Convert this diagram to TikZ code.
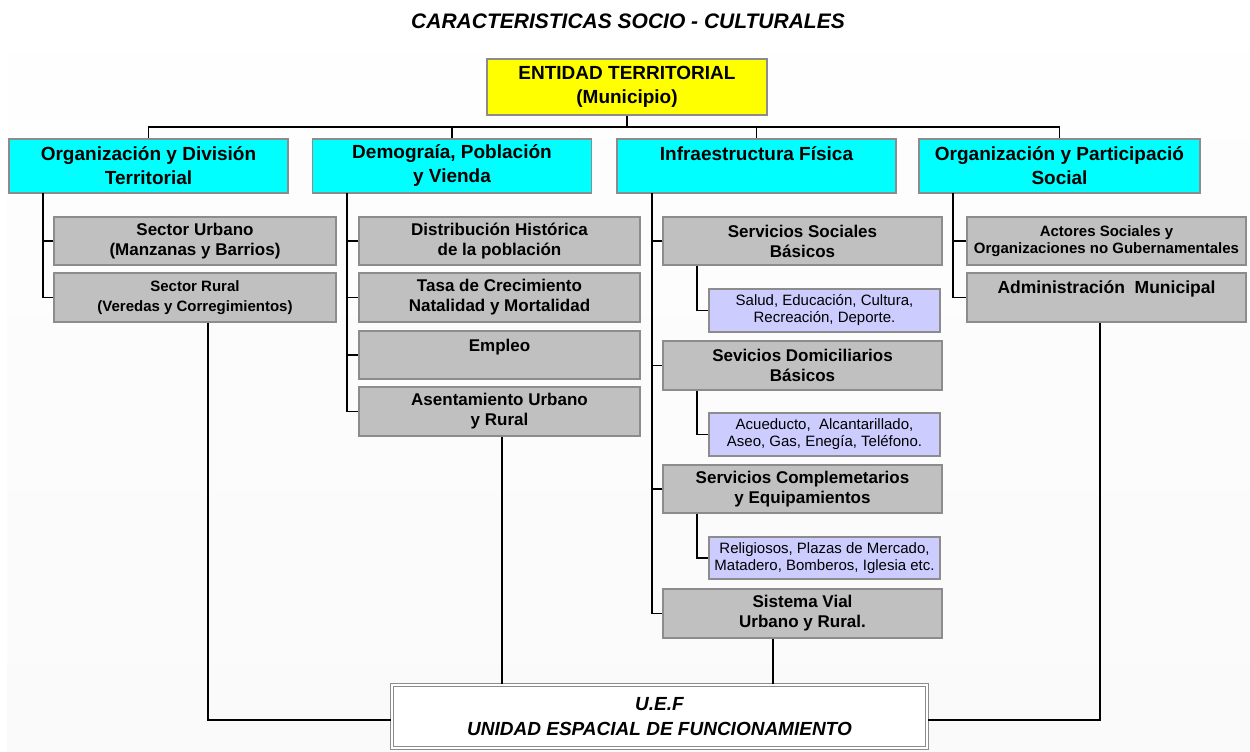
\documentclass[tikz,border=0pt]{standalone}
\usepackage{fontspec}
\setmainfont{Liberation Sans}
\definecolor{bord}{HTML}{8C8C8C}
\definecolor{grayfill}{HTML}{C0C0C0}
\definecolor{bluefill}{HTML}{CCCCFF}
\definecolor{cyanfill}{RGB}{0,255,255}
\definecolor{yellowfill}{RGB}{255,255,0}
\definecolor{bgtop}{HTML}{FEFEFE}
\definecolor{bgmid}{HTML}{DCDCDC}
\definecolor{bgbot}{HTML}{FAFAFA}
\tikzset{
 bx/.style={draw=bord, line width=1.6pt, inner sep=0pt, align=center, anchor=center},
 entbox/.style={bx, fill=yellowfill, minimum width=280pt, minimum height=56pt, font=\fontsize{19}{24}\selectfont\bfseries},
 catbox/.style={bx, fill=cyanfill, minimum width=279pt, minimum height=54pt, font=\fontsize{19}{24}\selectfont\bfseries},
 itembox/.style={bx, fill=grayfill, minimum width=280pt, minimum height=48pt, font=\fontsize{17}{20}\selectfont\bfseries},
 smallitem/.style={itembox, font=\fontsize{15}{20}\selectfont\bfseries},
 subbox/.style={bx, fill=bluefill, minimum width=231pt, minimum height=43pt, font=\fontsize{15}{17}\selectfont},
 link/.style={draw=black, line width=1.6pt},
}
\begin{document}
\begin{tikzpicture}[x=1pt,y=-1pt]
\useasboundingbox (0,0) rectangle (1250,752);
\shade[top color=bgtop, middle color=bgmid, bottom color=bgbot] (7,52) rectangle (1250,752);

\node[font=\fontsize{21}{25}\selectfont\bfseries\itshape] (title) at (628,21) {CARACTERISTICAS SOCIO - CULTURALES};

\node[entbox] (ent) at (627,87) {ENTIDAD TERRITORIAL\\(Municipio)};
\node[catbox] (c1) at (148.5,166) {Organización y División\\Territorial};
\node[catbox] (c2) at (452,166) {Demograía, Población\\y Vienda};
\node[catbox] (c3) at (756.5,166) {Infraestructura Física\\\mbox{}};
\node[catbox, minimum width=281pt] (c4) at (1059.5,166) {Organización y Participació\\Social};

% column 1
\node[itembox, minimum width=282pt] (s1a) at (195,241) {Sector Urbano\\(Manzanas y Barrios)};
\node[smallitem, minimum width=282pt, minimum height=49pt] (s1b) at (195,297.5) {Sector Rural\\(Veredas y Corregimientos)};

% column 2
\node[itembox, minimum width=281pt] (s2a) at (499.5,241) {Distribución Histórica\\de la población};
\node[itembox, minimum width=281pt, minimum height=49pt] (s2b) at (499.5,297.5) {Tasa de Crecimiento\\Natalidad y Mortalidad};
\node[itembox, minimum width=281pt] (s2c) at (499.5,355) {Empleo\\\mbox{}};
\node[itembox, minimum width=281pt, minimum height=49pt] (s2d) at (499.5,411.5) {Asentamiento Urbano\\y Rural};

% column 3
\node[itembox, minimum width=279pt] (s3a) at (802.5,241) {Servicios Sociales\\Básicos};
\node[subbox] (b3a) at (824.5,310.5) {Salud, Educación, Cultura,\\Recreación, Deporte.};
\node[itembox, minimum width=279pt, minimum height=49pt] (s3b) at (802.5,365.5) {Sevicios Domiciliarios\\Básicos};
\node[subbox] (b3b) at (824.5,434.5) {Acueducto,\ \ Alcantarillado,\\Aseo, Gas, Enegía, Teléfono.};
\node[itembox, minimum width=279pt] (s3c) at (802.5,489) {Servicios Complemetarios\\y Equipamientos};
\node[subbox, minimum height=42pt] (b3c) at (824.5,558) {Religiosos, Plazas de Mercado,\\Matadero, Bomberos, Iglesia etc.};
\node[itembox, minimum width=279pt, minimum height=49pt] (s3d) at (802.5,613.5) {Sistema Vial\\Urbano y Rural.};

% column 4
\node[itembox, minimum width=279pt, font=\fontsize{15}{17}\selectfont\bfseries] (s4a) at (1106.5,241) {Actores Sociales y\\Organizaciones no Gubernamentales};
\node[itembox, minimum width=279pt, minimum height=49pt, font=\fontsize{17.5}{20}\selectfont\bfseries] (s4b) at (1106.5,297.5) {Administración\ \ Municipal\\\mbox{}};

% bottom unit
\node[draw=bord, double=white, double distance=2.5pt, line width=1.2pt, fill=white, inner sep=0pt,
      minimum width=535pt, minimum height=63pt, align=center, text depth=-2pt,
      font=\fontsize{19}{25}\selectfont\bfseries\itshape] (uef) at (659.5,716.5) {U.E.F\\UNIDAD ESPACIAL DE FUNCIONAMIENTO};

% top bar
\coordinate (bar) at (627,127);
\draw[link] (c1.north) |- (bar) -| (c4.north);
\draw[link] (ent.south) -- (ent.south |- bar);
\draw[link] (c2.north) -- (c2.north |- bar);
\draw[link] (c3.north) -- (c3.north |- bar);

% spines
\coordinate (sp1) at (43,193);
\draw[link] (sp1) |- (s1b.west);
\draw[link] (sp1 |- s1a.west) -- (s1a.west);

\coordinate (sp2) at (347,193);
\draw[link] (sp2) |- (s2d.west);
\draw[link] (sp2 |- s2a.west) -- (s2a.west);
\draw[link] (sp2 |- s2b.west) -- (s2b.west);
\draw[link] (sp2 |- s2c.west) -- (s2c.west);

\coordinate (sp3) at (652,193);
\draw[link] (sp3) |- (s3d.west);
\draw[link] (sp3 |- s3a.west) -- (s3a.west);
\draw[link] (sp3 |- s3b.west) -- (s3b.west);
\draw[link] (sp3 |- s3c.west) -- (s3c.west);

\coordinate (sp4) at (953,193);
\draw[link] (sp4) |- (s4b.west);
\draw[link] (sp4 |- s4a.west) -- (s4a.west);

% sub connectors
\draw[link] ([xshift=-105.5pt]s3a.south) |- (b3a.west);
\draw[link] ([xshift=-105.5pt]s3b.south) |- (b3b.west);
\draw[link] ([xshift=-105.5pt]s3c.south) |- (b3c.west);

% to the unit
\draw[link] ([xshift=13pt]s1b.south) |- ([yshift=-3.5pt]uef.west);
\draw[link] ([xshift=2.5pt]s2d.south) -- ([xshift=2.5pt]s2d.south |- uef.north);
\draw[link] ([xshift=-29.5pt]s3d.south) -- ([xshift=-29.5pt]s3d.south |- uef.north);
\draw[link] ([xshift=-6.5pt]s4b.south) |- ([yshift=-3.5pt]uef.east);
\end{tikzpicture}
\end{document}
